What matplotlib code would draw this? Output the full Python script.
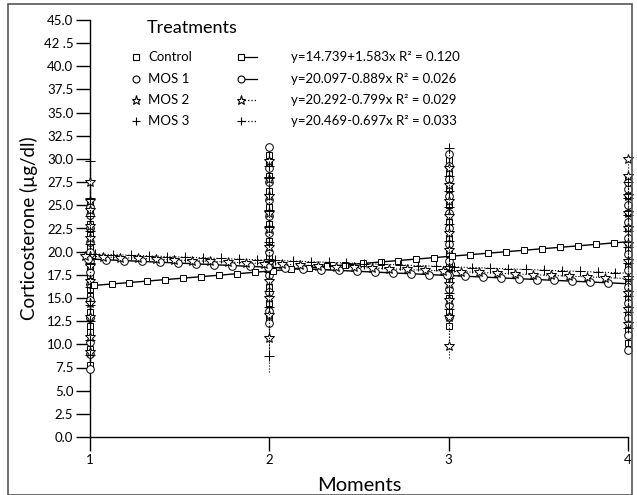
import numpy as np
import matplotlib.pyplot as plt
from matplotlib.lines import Line2D
from matplotlib.patches import Rectangle

plt.rcParams['font.family'] = ['Lato', 'DejaVu Sans']

#sampling moments
moments = [1, 2, 3, 4]
treatments = ['Control', 'MOS 1', 'MOS 2', 'MOS 3']

#individual corticosterone values (ug/dl)
control = [
    [7.8, 9.5, 11.3, 12.0, 13.5, 15.2, 16.0, 17.5, 18.2, 20.5, 21.8, 23.0, 24.2, 25.0],
    [12.8, 14.5, 16.2, 18.0, 19.5, 21.2, 23.0, 24.8, 26.5, 28.2, 29.5, 30.4],
    [12.0, 13.5, 15.0, 16.8, 18.5, 19.8, 21.5, 23.2, 25.0, 26.8, 28.5, 29.9],
    [10.1, 11.5, 13.2, 15.0, 16.8, 18.5, 20.2, 21.0, 22.5, 24.2, 26.0, 27.8],
]
mos1 = [
    [7.3, 9.0, 10.2, 12.8, 14.8, 16.5, 17.8, 19.0, 20.0, 21.0, 22.5, 24.0, 24.8],
    [12.3, 13.6, 15.6, 17.5, 18.5, 20.0, 22.0, 23.8, 25.6, 27.5, 29.0, 31.3],
    [12.9, 14.2, 16.0, 17.5, 19.0, 20.8, 22.5, 24.2, 26.0, 27.8, 29.2, 30.5],
    [9.4, 11.0, 12.8, 14.5, 16.2, 18.0, 19.8, 21.5, 23.2, 25.0, 26.8, 27.5],
]
mos2 = [
    [9.2, 10.8, 13.0, 14.5, 16.8, 18.5, 19.5, 21.5, 22.8, 24.5, 25.5, 27.5],
    [10.7, 13.2, 15.0, 16.8, 18.8, 20.5, 22.4, 24.2, 26.0, 27.8, 29.8],
    [9.85, 13.0, 14.8, 16.5, 18.2, 20.2, 22.0, 23.8, 25.5, 27.2, 29.0],
    [12.2, 13.8, 15.5, 17.2, 19.0, 20.8, 22.5, 24.2, 26.0, 28.2, 30.0],
]
mos3 = [
    [8.8, 10.5, 12.5, 14.2, 16.2, 18.8, 19.3, 20.8, 22.2, 23.8, 25.8, 29.8],
    [8.7, 14.0, 15.8, 17.8, 19.2, 21.0, 22.8, 24.5, 26.2, 28.0, 29.2],
    [13.8, 15.5, 17.2, 18.0, 19.5, 21.2, 23.0, 24.8, 26.5, 28.2, 31.2],
    [11.8, 13.5, 15.2, 17.0, 18.8, 20.5, 22.2, 24.0, 25.8, 27.5],
]
#dotted range of the MOS columns (extends past the last marker)
dotted_lo = [8.8, 7.0, 8.5, 11.8]
dotted_hi = [29.8, 29.8, 31.2, 31.5]

#linear fits from the legend
intercepts = [14.739, 20.097, 20.292, 20.469]
slopes = [1.583, -0.889, -0.799, -0.697]
r2 = [0.120, 0.026, 0.029, 0.033]

yticks = np.arange(0, 45.1, 2.5)
ytick_labels = ['0.0', '2.5', '5.0', '7.5', '10.0', '12.5', '15.0', '17.5', '20.0', '22.5',
                '25.0', '27.5', '30.0', '32.5', '35.0', '37.5', '40.0', '42 .5', '45.0']

markers = ['s', 'o', '*', '+']
msizes = [5, 5.5, 7, 6.5]
styles = ['-', '-', ':', ':']
offsets = [0.02, -0.01, -0.03, 0.03]   #markers along each fit are staggered

fig = plt.figure(figsize=(6.37, 4.95), dpi=100)
ax = fig.add_axes([90/637, 1 - 437/495, 538/637, 417/495])

columns = [control, mos1, mos2, mos3]
for i in range(4):
    mk = dict(marker=markers[i], markersize=msizes[i], markerfacecolor='white',
              markeredgecolor='black', markeredgewidth=0.7, color='black', clip_on=False)
    #vertical columns of individual values
    for m, vals in zip(moments, columns[i]):
        v = np.sort(vals)
        ax.plot([m] * len(v), v, linestyle=styles[i], linewidth=0.8, zorder=3, **mk)
    #regression line
    xf = np.linspace(1, 4, 61)
    ax.plot(xf, intercepts[i] + slopes[i] * xf, linestyle=styles[i],
            linewidth=1.0 if i < 2 else 0.8, color='black', zorder=2, clip_on=False)
    xm = np.arange(1, 4, 0.1) + offsets[i]
    ax.plot(xm, intercepts[i] + slopes[i] * xm, linestyle='none', zorder=4, **mk)

ax.vlines(moments, dotted_lo, dotted_hi, colors='black', linestyles=':', linewidth=0.8, zorder=1)

ax.set_xlim(1, 4)
ax.set_ylim(0, 45)
ax.set_xticks(moments)
ax.set_xticklabels(['1', '2', '3', '4'], fontsize=9.5)
ax.set_yticks(yticks)
ax.set_yticklabels(ytick_labels, fontsize=9.5)
ax.tick_params(axis='y', length=10, width=1, pad=2)
ax.tick_params(axis='x', length=10, width=1, pad=2)
ax.spines['top'].set_visible(False)
ax.spines['right'].set_visible(False)
ax.spines['left'].set_linewidth(1)
ax.spines['bottom'].set_linewidth(1)
ax.set_xlabel('Moments', fontsize=14.5, labelpad=8)
ax.set_ylabel('Corticosterone (\u00b5g/dl)', fontsize=13.5, labelpad=4)

#legend drawn by hand: marker, name, marker+line, equation
fig.text(147/637, 1 - 28/495, 'Treatments', fontsize=13, va='center')
rows_y = [57, 79, 100, 121]
for i in range(4):
    y = 1 - rows_y[i] / 495
    fig.add_artist(Line2D([136/637], [y], marker=markers[i], markersize=msizes[i] - 0.5,
                          markerfacecolor='white', markeredgecolor='black', markeredgewidth=0.8,
                          color='black'))
    fig.text(148/637, y, treatments[i], fontsize=9.5, va='center')
    fig.add_artist(Line2D([241/637, 257/637], [y, y], linestyle=styles[i], linewidth=0.9,
                          color='black'))
    fig.add_artist(Line2D([241/637], [y], marker=markers[i], markersize=msizes[i] - 0.5,
                          markerfacecolor='white', markeredgecolor='black', markeredgewidth=0.8,
                          color='black'))
    sign = '+' if slopes[i] >= 0 else '-'
    eq = f'y={intercepts[i]:.3f}{sign}{abs(slopes[i]):.3f}x R\u00b2 = {r2[i]:.3f}'
    fig.text(291/637, y, eq, fontsize=9.5, va='center')

#frame around the figure
fig.add_artist(Rectangle((8/637, 0), 624/637, 1 - 4/495, transform=fig.transFigure,
                         fill=False, edgecolor='#555555', linewidth=1.2))

fig.savefig('out.png', dpi=100)
